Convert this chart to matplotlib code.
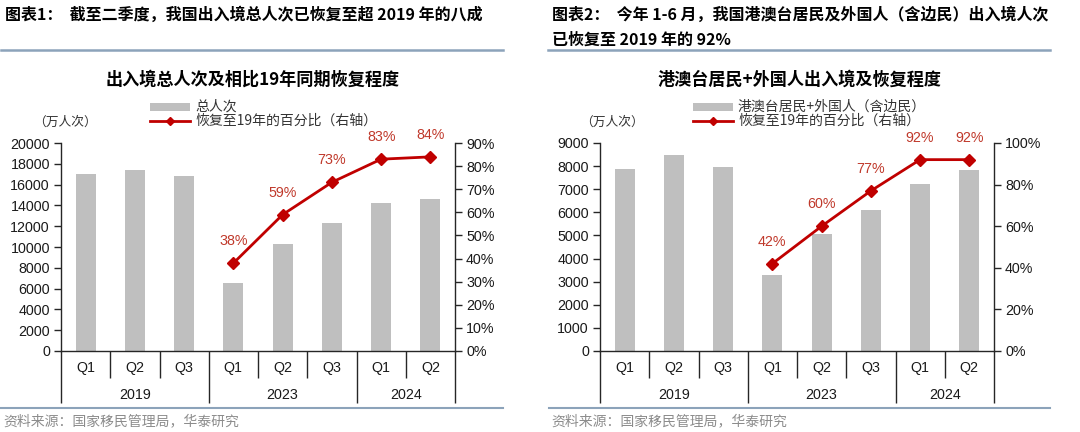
import matplotlib
matplotlib.use('Agg')
import matplotlib.pyplot as plt
from matplotlib.patches import Rectangle
from matplotlib.lines import Line2D
from matplotlib.ticker import FuncFormatter, MultipleLocator

# ---------------- data ----------------
quarters = ['Q1', 'Q2', 'Q3', 'Q1', 'Q2', 'Q3', 'Q1', 'Q2']
years = ['2019', '2023', '2024']
year_spans = [(0, 3), (3, 6), (6, 8)]

total_trips = [17050, 17430, 16860, 6510, 10290, 12310, 14200, 14580]      # 万人次
total_recovery = [38, 59, 73, 83, 84]                                       # % vs 2019
foreign_trips = [7860, 8470, 7980, 3290, 5060, 6110, 7240, 7820]            # 万人次
foreign_recovery = [42, 60, 77, 92, 92]                                     # % vs 2019
recovery_idx = [3, 4, 5, 6, 7]

# ---------------- style ----------------
W, H = 1080, 432
CJK = ['Noto Sans CJK SC', 'DejaVu Sans']
LAT = ['Liberation Sans', 'Noto Sans CJK SC', 'DejaVu Sans']
plt.rcParams['font.family'] = LAT
BAR = '#BFBFBF'
RED = '#C00000'
LBL = '#C0392B'
DIV = '#8CA3BA'
AX = '#262626'

fig = plt.figure(figsize=(W / 100, H / 100), dpi=100)
fig.patch.set_facecolor('white')

ov = fig.add_axes([0, 0, 1, 1])
ov.set_xlim(0, W)
ov.set_ylim(H, 0)
ov.axis('off')
ov.patch.set_alpha(0)


def px_axes(x0, x1, y0, y1):
    return fig.add_axes([x0 / W, 1 - y1 / H, (x1 - x0) / W, (y1 - y0) / H])


def draw_chart(x0, x1, values, rec, ymax, ystep, rmax, rstep):
    y0, y1 = 143, 351
    ah = y1 - y0
    ax = px_axes(x0, x1, y0, y1)
    xs = list(range(len(values)))
    ax.bar(xs, values, width=0.41, color=BAR, zorder=2)
    ax.set_xlim(-0.5, len(values) - 0.5)
    ax.set_ylim(0, ymax)
    ax.yaxis.set_major_locator(MultipleLocator(ystep))
    ax.yaxis.set_major_formatter(FuncFormatter(lambda v, p: f'{int(v)}'))
    ax.set_xticks([])
    for s in ['top', 'right']:
        ax.spines[s].set_visible(False)
    for s in ['left', 'bottom']:
        ax.spines[s].set_color(AX)
        ax.spines[s].set_linewidth(1)
    ax.tick_params(axis='y', direction='out', length=5, width=1, color=AX,
                   labelsize=10.3, labelcolor='#1a1a1a', pad=3)

    ax2 = ax.twinx()
    ax2.set_ylim(0, rmax)
    ax2.yaxis.set_major_locator(MultipleLocator(rstep))
    ax2.yaxis.set_major_formatter(FuncFormatter(lambda v, p: f'{int(round(v))}%'))
    for s in ['top', 'left', 'bottom']:
        ax2.spines[s].set_visible(False)
    ax2.spines['right'].set_color(AX)
    ax2.spines['right'].set_linewidth(1)
    ax2.tick_params(axis='y', direction='out', length=5, width=1, color=AX,
                    labelsize=10.3, labelcolor='#1a1a1a', pad=3)
    ax2.plot(recovery_idx, rec, color=RED, lw=2, marker='D', ms=6,
             mec=RED, mfc=RED, zorder=3)
    for xi, r in zip(recovery_idx, rec):
        ax2.annotate(f'{r}%', (xi, r), xytext=(0, 22), textcoords='offset pixels',
                     ha='center', va='center', fontsize=10.3, color=LBL,
                     annotation_clip=False)

    # multi-level category axis
    tr = ax.get_xaxis_transform()
    short_end = -27 / ah
    long_end = -52 / ah
    bounds = {s for span in year_spans for s in span}
    for b in range(len(values) + 1):
        end = long_end if b in bounds else short_end
        ax.plot([b - 0.5, b - 0.5], [0, end], transform=tr, color=AX, lw=1,
                clip_on=False, solid_capstyle='butt')
    for xi, q in enumerate(quarters):
        ax.text(xi, -17 / ah, q, transform=tr, ha='center', va='center',
                fontsize=10.3, color='#1a1a1a')
    for (a, b), yr in zip(year_spans, years):
        ax.text((a + b - 1) / 2, -44 / ah, yr, transform=tr, ha='center',
                va='center', fontsize=10.3, color='#1a1a1a')
    return ax


def legend(x_patch, bar_label):
    ov.add_patch(Rectangle((x_patch, 103), 40, 8, color=BAR, lw=0))
    ov.text(x_patch + 45, 107, bar_label, family=CJK, fontsize=10,
            color='#333333', ha='left', va='center')
    ov.add_line(Line2D([x_patch, x_patch + 40], [121, 121], color=RED, lw=2))
    ov.add_line(Line2D([x_patch + 20], [121], color=RED, marker='D', ms=4))
    ov.text(x_patch + 45, 121, '恢复至19年的百分比（右轴）', family=CJK,
            fontsize=10, color='#333333', ha='left', va='center')


# ---------------- left panel ----------------
ov.text(5, 15, '图表1：  截至二季度，我国出入境总人次已恢复至超 2019 年的八成',
        family=CJK, fontsize=11.5, fontweight='bold', ha='left', va='center')
ov.add_line(Line2D([1, 503], [50, 50], color=DIV, lw=1.8))
ov.text(253, 80, '出入境总人次及相比19年同期恢复程度', family=CJK, fontsize=12.3,
        fontweight='bold', ha='center', va='center')
legend(150, '总人次')
ov.text(65, 122, '（万人次）', family=CJK, fontsize=9.2, color='#333333',
        ha='center', va='center')
draw_chart(61, 455, total_trips, total_recovery, 20000, 2000, 90, 10)
ov.add_line(Line2D([1, 503], [408, 408], color=DIV, lw=1.5))
ov.text(3, 421, '资料来源：国家移民管理局，华泰研究', family=CJK, fontsize=10,
        color='#8c8c8c', ha='left', va='center')

# ---------------- right panel ----------------
ov.text(552, 15, '图表2：  今年 1-6 月，我国港澳台居民及外国人（含边民）出入境人次',
        family=CJK, fontsize=11.5, fontweight='bold', ha='left', va='center')
ov.text(552, 40, '已恢复至 2019 年的 92%', family=CJK, fontsize=11.5,
        fontweight='bold', ha='left', va='center')
ov.add_line(Line2D([548, 1050], [50, 50], color=DIV, lw=1.8))
ov.text(799, 80, '港澳台居民+外国人出入境及恢复程度', family=CJK, fontsize=12.3,
        fontweight='bold', ha='center', va='center')
legend(693, '港澳台居民+外国人（含边民）')
ov.text(612, 122, '（万人次）', family=CJK, fontsize=9.2, color='#333333',
        ha='center', va='center')
draw_chart(600, 994, foreign_trips, foreign_recovery, 9000, 1000, 100, 20)
ov.add_line(Line2D([549, 1050], [408, 408], color=DIV, lw=1.5))
ov.text(551, 421, '资料来源：国家移民管理局，华泰研究', family=CJK, fontsize=10,
        color='#8c8c8c', ha='left', va='center')

fig.savefig('out.png', dpi=100, facecolor='white')
